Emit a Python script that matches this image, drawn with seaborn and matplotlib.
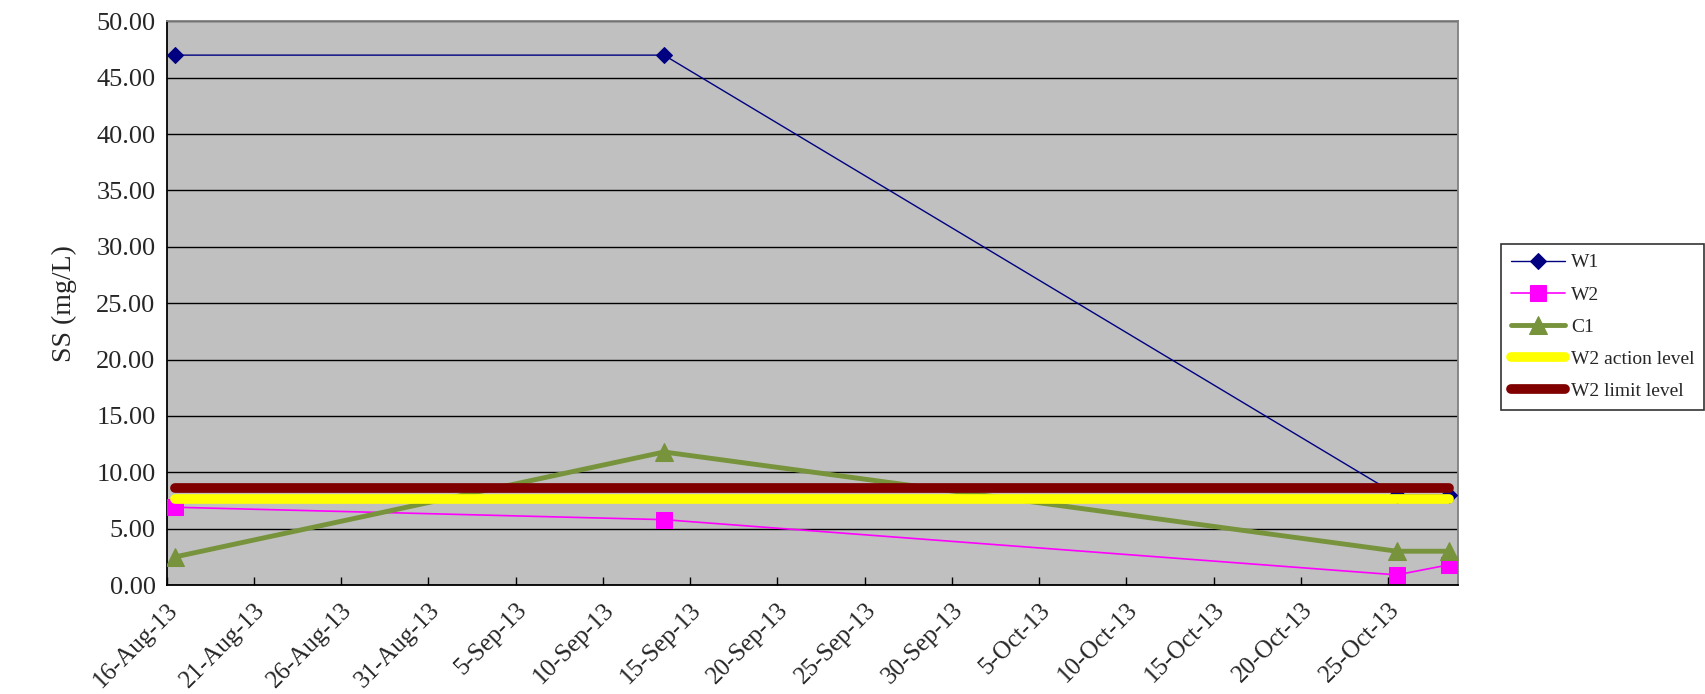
import pandas as pd
import numpy as np
import matplotlib
matplotlib.use('Agg')
import matplotlib.pyplot as plt
import seaborn as sns

# === DATOS ===
fechas = pd.to_datetime(['2013-08-16', '2013-09-13', '2013-10-25', '2013-10-28'])
w1 = [47.0, 47.0, 8.0, 8.0]
w2 = [6.9, 5.8, 0.9, 1.8]
c1 = [2.5, 11.8, 3.0, 3.0]
w2_action = [7.6, 7.6, 7.6, 7.6]
w2_limit = [8.6, 8.6, 8.6, 8.6]

tick_dates = pd.date_range('2013-08-16', '2013-10-25', freq='5D')
x_ini = pd.Timestamp('2013-08-16')
x_fin = pd.Timestamp('2013-10-29')

# Excel pone los puntos a mitad del dia
x = fechas + pd.Timedelta(hours=12)

sns.set_theme(style='ticks')
plt.rcParams['font.family'] = ['Liberation Serif', 'DejaVu Serif']

fig = plt.figure(figsize=(17.06, 6.94), dpi=100)
ax = fig.add_axes([0.0977, 0.157, 0.7569, 0.8123])
ax.set_facecolor('#C0C0C0')

sns.lineplot(x=x, y=w1, ax=ax, color='#000080', linewidth=1, marker='D',
             markersize=8, markeredgecolor='#000080', label='W1', zorder=3)
sns.lineplot(x=x, y=w2, ax=ax, color='#FF00FF', linewidth=1.2, marker='s',
             markersize=11, markeredgecolor='#FF00FF', label='W2', zorder=3)
sns.lineplot(x=x, y=c1, ax=ax, color='#77933C', linewidth=3.5, marker='^',
             markersize=13, markeredgecolor='#77933C', label='C1', zorder=3)
sns.lineplot(x=x, y=w2_action, ax=ax, color='#FFFF00', linewidth=7,
             solid_capstyle='round', label='W2 action level', zorder=4)
sns.lineplot(x=x, y=w2_limit, ax=ax, color='#800000', linewidth=7,
             solid_capstyle='round', label='W2 limit level', zorder=4)

# Ejes
ax.set_xlim(x_ini, x_fin)
ax.set_ylim(0, 50)
ax.set_yticks(np.arange(0, 50.1, 5))
ax.yaxis.set_major_formatter(matplotlib.ticker.FormatStrFormatter('%.2f'))
ax.set_xticks(tick_dates)
ax.set_xticklabels([f"{d.day}-{d.strftime('%b-%y')}" for d in tick_dates],
                   rotation=45, ha='right', rotation_mode='anchor')
ax.tick_params(axis='x', direction='in', length=6, width=1, color='black',
               labelsize=18, pad=10)
ax.tick_params(axis='y', length=0, labelsize=19, pad=8)
ax.yaxis.grid(True, color='black', linewidth=1)
ax.xaxis.grid(False)
ax.set_axisbelow(True)
for s in ['left', 'bottom']:
    ax.spines[s].set_color('black')
    ax.spines[s].set_linewidth(1.3)
for s in ['top', 'right']:
    ax.spines[s].set_visible(True)
    ax.spines[s].set_color('#808080')
    ax.spines[s].set_linewidth(1.3)

ax.set_xlabel('')
ax.set_ylabel('SS (mg/L)', fontsize=20, labelpad=14)

# Leyenda
handles, labels = ax.get_legend_handles_labels()
ax.get_legend().remove()
leg = fig.legend(handles, labels, loc='upper left',
                 bbox_to_anchor=(1501 / 1706, 1 - 244 / 694),
                 fontsize=14, frameon=True, fancybox=False, edgecolor='black',
                 handlelength=2.8, handletextpad=0.3, labelspacing=0.75,
                 borderpad=0.5, borderaxespad=0)
leg.get_frame().set_linewidth(1.2)

fig.savefig('out.png', dpi=100, facecolor='white')
